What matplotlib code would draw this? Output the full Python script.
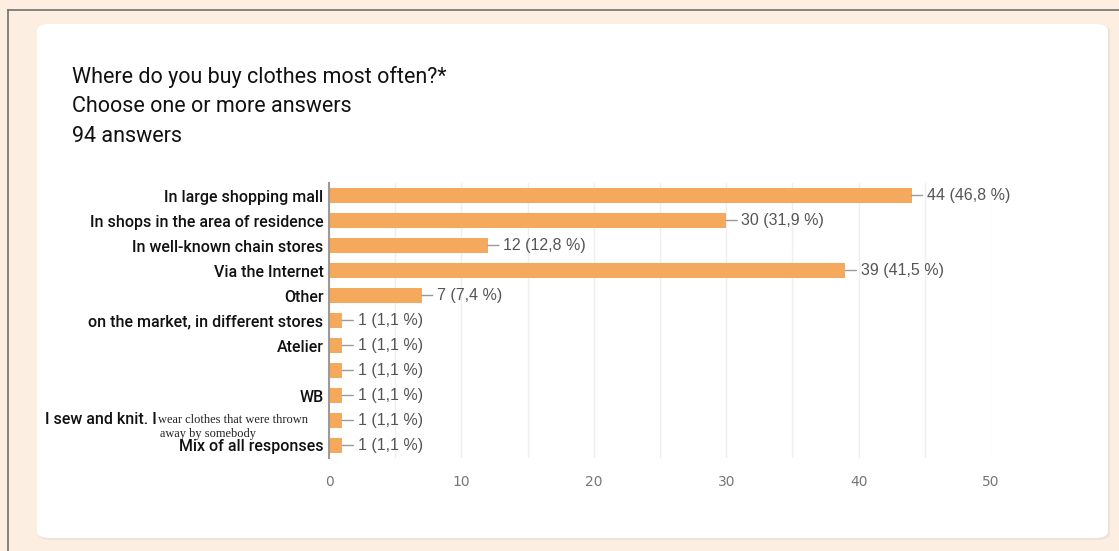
import matplotlib.pyplot as plt
from matplotlib.patches import FancyBboxPatch
from matplotlib.lines import Line2D

# Survey answers, top to bottom
categories = [
    "In large shopping mall",
    "In shops in the area of residence",
    "In well-known chain stores",
    "Via the Internet",
    "Other",
    "on the market, in different stores",
    "Atelier",
    "",
    "WB",
    "",  # drawn by hand below (mixed fonts)
    "Mix of all responses",
]
counts = [44, 30, 12, 39, 7, 1, 1, 1, 1, 1, 1]
percents = ["46,8", "31,9", "12,8", "41,5", "7,4", "1,1", "1,1", "1,1", "1,1", "1,1", "1,1"]
x_ticks = [0, 10, 20, 30, 40, 50]

title_lines = ["Where do you buy clothes most often?*",
               "Choose one or more answers",
               "94 answers"]

bar_color = "#f5a95c"
label_gray = "#555555"

fig = plt.figure(figsize=(11.19, 5.51), dpi=100)
fig.patch.set_facecolor("#fdeee2")

# outer frame lines (left and top)
fig.add_artist(Line2D([8 / 1119, 8 / 1119], [0, 1 - 10 / 551], transform=fig.transFigure,
                      color="#707070", lw=1.2))
fig.add_artist(Line2D([8 / 1119, 1], [1 - 10 / 551, 1 - 10 / 551], transform=fig.transFigure,
                      color="#707070", lw=1.2))

# white card with soft shadow
fig.add_artist(FancyBboxPatch((38 / 1119, 1 - 540 / 551), (1110 - 38) / 1119, (540 - 25) / 551,
                              boxstyle="round,pad=0,rounding_size=0.012",
                              transform=fig.transFigure, facecolor="#ebe3dc",
                              edgecolor="none", zorder=0))
fig.add_artist(FancyBboxPatch((37 / 1119, 1 - 538 / 551), (1108 - 37) / 1119, (538 - 24) / 551,
                              boxstyle="round,pad=0,rounding_size=0.012",
                              transform=fig.transFigure, facecolor="white",
                              edgecolor="none", zorder=0))

for k, line in enumerate(title_lines):
    fig.text(72 / 1119, 1 - (77 + 30 * k) / 551, line, fontsize=15.5, family="Roboto",
             color="#111111", va="center", ha="left")

ax = fig.add_axes([329 / 1119, 1 - 458 / 551, (991 - 329) / 1119, (458 - 183) / 551])
ax.set_facecolor("none")

y = list(range(len(categories)))
ax.barh(y, counts, height=0.6, color=bar_color, zorder=3)

for i, (c, p) in enumerate(zip(counts, percents)):
    ax.annotate(f"{c} ({p} %)", xy=(c, i), xytext=(11, 0), textcoords="offset points",
                va="center", ha="left", fontsize=11.5, family="Liberation Sans",
                color=label_gray,
                arrowprops=dict(arrowstyle="-", color="#9a9a9a", lw=1,
                                shrinkA=1, shrinkB=0))

ax.set_xlim(0, 50)
ax.set_ylim(10.5, -0.5)
ax.set_xticks(x_ticks)
ax.set_xticks([5, 15, 25, 35, 45], minor=True)
ax.grid(axis="x", which="both", color="#efefef", lw=1, zorder=0)
ax.set_yticks(y)
ax.set_yticklabels(categories, fontsize=11.5, family="Roboto", fontweight="medium",
                   color="#111111")
ax.tick_params(axis="y", length=0, pad=4)
ax.tick_params(axis="x", which="both", length=0, pad=12, labelsize=10, labelcolor="#777777")

for s in ["top", "right", "bottom"]:
    ax.spines[s].set_visible(False)
ax.spines["left"].set_color("#9a9a9a")
ax.spines["left"].set_linewidth(1.5)
ax.spines["left"].set_zorder(4)

# long answer typed partly in another font
fig.text(45 / 1119, 1 - 420 / 551, "I sew and knit. I", ha="left", va="center",
         fontsize=11.5, family="Roboto", fontweight="medium", color="#111111")
fig.text(158 / 1119, 1 - 420 / 551, "wear clothes that were thrown", fontsize=8.9,
         family="Liberation Serif", color="#222222", va="center", ha="left")
fig.text(160 / 1119, 1 - 434 / 551, "away by somebody", fontsize=8.9,
         family="Liberation Serif", color="#222222", va="center", ha="left")

fig.savefig("out.png", dpi=100, facecolor=fig.get_facecolor())
